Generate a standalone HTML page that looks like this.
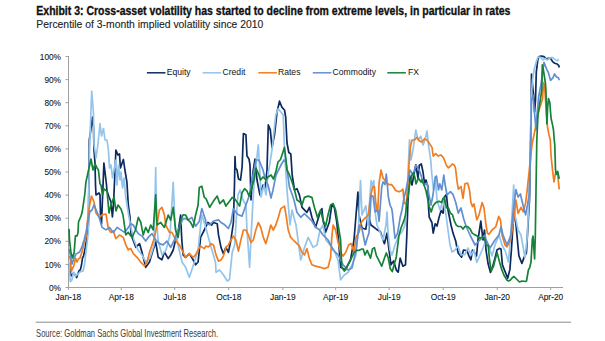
<!DOCTYPE html><html><head><meta charset="utf-8"><style>
html,body{margin:0;padding:0;background:#fff;width:605px;height:341px;overflow:hidden}
svg{display:block}
text{font-family:"Liberation Sans",sans-serif}
</style></head><body>
<svg width="605" height="341" viewBox="0 0 605 341">
<rect width="605" height="341" fill="#fff"/>
<text x="36.3" y="14.5" font-size="13" font-weight="bold" fill="#111" stroke="#111" stroke-width="0.35" textLength="474" lengthAdjust="spacingAndGlyphs">Exhibit 3: Cross-asset volatility has started to decline from extreme levels, in particular in rates</text>
<text x="36.3" y="28.4" font-size="11.2" fill="#222" stroke="#222" stroke-width="0.12" textLength="227" lengthAdjust="spacingAndGlyphs">Percentile of 3-month implied volatility since 2010</text>

<g stroke="#a0a0a0" stroke-width="1" fill="none">
<line x1="68.5" y1="56" x2="68.5" y2="287.5"/>
<line x1="65.5" y1="287.50" x2="69" y2="287.50"/>
<line x1="65.5" y1="264.40" x2="69" y2="264.40"/>
<line x1="65.5" y1="241.30" x2="69" y2="241.30"/>
<line x1="65.5" y1="218.20" x2="69" y2="218.20"/>
<line x1="65.5" y1="195.10" x2="69" y2="195.10"/>
<line x1="65.5" y1="172.00" x2="69" y2="172.00"/>
<line x1="65.5" y1="148.90" x2="69" y2="148.90"/>
<line x1="65.5" y1="125.80" x2="69" y2="125.80"/>
<line x1="65.5" y1="102.70" x2="69" y2="102.70"/>
<line x1="65.5" y1="79.60" x2="69" y2="79.60"/>
<line x1="65.5" y1="56.50" x2="69" y2="56.50"/>
<line x1="68" y1="287.5" x2="563" y2="287.5"/>
<line x1="68.40" y1="287.5" x2="68.40" y2="290.0"/>
<line x1="121.27" y1="287.5" x2="121.27" y2="290.0"/>
<line x1="174.73" y1="287.5" x2="174.73" y2="290.0"/>
<line x1="228.78" y1="287.5" x2="228.78" y2="290.0"/>
<line x1="282.82" y1="287.5" x2="282.82" y2="290.0"/>
<line x1="335.69" y1="287.5" x2="335.69" y2="290.0"/>
<line x1="389.15" y1="287.5" x2="389.15" y2="290.0"/>
<line x1="443.20" y1="287.5" x2="443.20" y2="290.0"/>
<line x1="497.24" y1="287.5" x2="497.24" y2="290.0"/>
<line x1="550.70" y1="287.5" x2="550.70" y2="290.0"/>
</g>
<g font-size="8.3" fill="#111" stroke="#111" stroke-width="0.08" text-anchor="end">
<text x="61" y="290.60">0%</text>
<text x="61" y="267.50">10%</text>
<text x="61" y="244.40">20%</text>
<text x="61" y="221.30">30%</text>
<text x="61" y="198.20">40%</text>
<text x="61" y="175.10">50%</text>
<text x="61" y="152.00">60%</text>
<text x="61" y="128.90">70%</text>
<text x="61" y="105.80">80%</text>
<text x="61" y="82.70">90%</text>
<text x="61" y="59.60">100%</text>
</g>
<g font-size="8.4" fill="#111" stroke="#111" stroke-width="0.08" text-anchor="middle">
<text x="68.40" y="300.1">Jan-18</text>
<text x="121.27" y="300.1">Apr-18</text>
<text x="174.73" y="300.1">Jul-18</text>
<text x="228.78" y="300.1">Oct-18</text>
<text x="282.82" y="300.1">Jan-19</text>
<text x="335.69" y="300.1">Apr-19</text>
<text x="389.15" y="300.1">Jul-19</text>
<text x="443.20" y="300.1">Oct-19</text>
<text x="497.24" y="300.1">Jan-20</text>
<text x="550.70" y="300.1">Apr-20</text>
</g>
<g font-size="8.6" fill="#111">
<line x1="146.9" y1="72.8" x2="165.5" y2="72.8" stroke="#0d2a5e" stroke-width="1.5"/>
<text x="166.7" y="74.9">Equity</text>
<line x1="202.6" y1="72.8" x2="221.2" y2="72.8" stroke="#93c4ec" stroke-width="1.5"/>
<text x="222.5" y="74.9">Credit</text>
<line x1="258.3" y1="72.8" x2="276.90000000000003" y2="72.8" stroke="#f27d20" stroke-width="1.5"/>
<text x="278" y="74.9">Rates</text>
<line x1="312.8" y1="72.8" x2="331.40000000000003" y2="72.8" stroke="#628fd0" stroke-width="1.5"/>
<text x="332.6" y="74.9">Commodity</text>
<line x1="387.3" y1="72.8" x2="405.90000000000003" y2="72.8" stroke="#168239" stroke-width="1.5"/>
<text x="408" y="74.9">FX</text>
</g>
<polyline fill="none" stroke="#0d2a5e" stroke-width="1.7" stroke-linejoin="round" points="69.0,264.0 70.9,274.9 71.9,275.9 73.5,273.0 74.5,274.0 76.7,277.5 77.5,275.0 78.8,271.2 80.4,269.6 81.5,265.0 82.5,258.0 83.6,256.0 85.2,248.0 86.5,240.0 88.4,225.0 89.3,140.0 90.5,132.0 92.5,117.0 93.5,128.0 94.0,150.0 95.0,163.0 95.5,185.0 96.0,195.0 99.0,193.0 100.0,195.0 100.5,215.0 101.5,224.0 103.9,163.0 106.4,184.0 107.0,191.0 109.0,197.0 111.0,202.0 112.4,217.0 113.5,205.0 115.9,150.0 117.9,155.0 119.5,154.0 120.4,168.0 123.4,159.5 124.9,170.0 126.9,182.0 128.3,205.0 130.0,217.0 131.0,234.0 133.0,240.0 135.8,247.3 139.5,243.6 142.0,252.3 145.7,267.3 149.5,262.0 152.0,253.6 155.7,242.0 158.2,257.3 161.9,259.8 164.4,252.0 168.2,258.6 170.7,255.0 173.2,250.0 175.6,239.9 178.1,232.0 180.6,215.0 181.8,240.0 183.1,254.8 185.6,257.3 189.3,253.6 193.1,259.8 195.6,264.8 198.1,262.0 200.6,237.4 204.3,230.0 208.0,222.4 211.7,225.0 213.5,222.5 217.2,223.7 218.5,234.9 221.0,247.4 223.4,253.6 225.9,247.4 228.4,252.4 230.9,240.0 233.4,222.5 234.5,184.0 235.0,156.5 235.5,168.0 237.0,170.0 238.5,179.0 240.5,180.0 241.5,172.0 242.1,167.0 243.4,133.6 245.9,134.8 247.0,156.0 249.0,159.0 250.0,165.0 251.0,200.0 253.0,172.0 255.0,159.0 257.0,180.0 260.0,195.0 263.0,185.0 265.0,188.0 267.0,170.0 268.3,124.9 270.3,129.9 272.0,147.3 274.5,134.8 277.0,112.4 279.5,101.2 282.0,107.4 284.5,110.0 285.7,117.4 287.0,143.0 288.8,152.5 290.8,154.0 292.2,175.0 294.5,189.9 297.0,188.7 299.4,194.9 302.0,207.3 304.4,209.8 306.9,212.3 309.4,207.3 311.9,217.3 315.6,227.3 319.4,214.8 321.9,208.6 323.0,220.0 325.6,232.3 329.3,222.3 331.8,204.9 334.3,207.3 336.8,222.3 338.5,240.0 340.6,267.3 345.5,269.8 350.5,259.9 354.0,240.0 357.9,192.0 359.0,215.0 362.0,228.0 365.8,229.2 368.0,215.0 371.0,225.0 376.4,229.2 380.4,231.8 384.4,243.7 387.0,233.2 389.0,250.0 391.0,264.8 393.6,260.9 396.3,270.1 398.2,272.1 400.2,258.2 402.9,266.2 405.5,264.8 406.8,235.8 408.0,200.0 409.5,175.0 412.0,185.0 415.8,164.8 418.0,178.0 419.3,165.3 421.3,164.0 423.0,172.0 424.6,183.8 426.0,180.0 427.9,186.5 428.5,206.6 429.2,217.2 431.9,222.5 433.2,233.1 435.2,223.8 437.0,226.0 439.1,217.2 441.1,210.6 443.1,213.2 444.4,197.0 446.4,194.4 448.0,210.0 451.0,225.0 453.0,233.1 455.7,241.0 457.0,248.0 458.3,253.2 461.6,257.2 463.5,250.0 466.9,250.6 468.9,255.9 470.9,259.8 472.5,250.0 474.9,253.2 476.5,256.0 478.0,240.0 480.8,221.2 483.0,240.0 484.5,230.0 486.0,250.0 488.1,263.8 490.5,272.4 492.7,266.5 495.0,258.0 497.0,250.0 499.5,248.4 501.0,249.0 502.4,264.9 505.4,272.4 507.7,278.3 509.9,269.4 511.4,249.9 513.0,225.0 514.0,210.0 516.0,225.0 518.9,255.9 521.9,263.4 524.1,257.4 526.4,252.9 528.0,225.0 529.5,200.0 530.5,150.0 531.5,74.0 533.5,95.0 534.6,112.0 535.5,100.0 536.3,72.0 537.8,59.9 539.0,56.6 541.5,56.2 544.0,56.6 546.4,59.1 548.1,58.3 550.6,58.3 552.6,61.6 554.7,63.2 557.2,64.0 558.8,65.7 559.3,67.4"/>
<polyline fill="none" stroke="#93c4ec" stroke-width="1.7" stroke-linejoin="round" points="69.0,262.0 69.6,272.2 70.3,281.8 71.9,280.0 73.5,272.0 75.5,276.0 78.0,274.0 80.0,272.0 83.0,271.0 84.5,265.0 86.0,252.0 88.4,232.0 88.7,200.0 89.5,150.0 91.0,110.0 91.7,91.2 93.4,112.0 94.0,144.0 96.0,158.0 98.0,144.0 100.0,123.5 101.5,136.0 103.5,128.5 105.0,140.0 107.0,140.0 108.4,150.0 109.5,168.0 111.0,165.0 112.5,178.0 114.0,170.0 115.9,160.0 117.0,185.0 118.5,165.0 120.0,180.0 121.0,172.0 122.5,188.0 124.0,178.0 125.5,195.0 127.0,205.0 129.5,219.8 131.5,230.0 134.0,240.0 138.0,250.0 142.0,255.0 146.0,262.0 150.0,258.0 154.0,245.0 155.7,167.5 156.5,215.0 158.0,240.0 162.0,255.0 166.0,250.0 170.0,235.0 173.2,182.4 175.0,225.0 178.0,245.0 182.0,262.0 185.6,267.3 189.3,277.2 191.8,270.0 194.3,262.3 198.1,249.8 201.8,215.0 205.0,225.0 210.5,244.9 215.5,262.3 216.0,272.3 219.5,270.0 223.4,274.8 227.2,281.0 229.5,279.5 232.2,252.4 234.7,244.7 236.5,215.0 238.0,195.0 240.0,190.0 243.0,200.0 245.9,205.0 247.0,230.0 249.6,267.3 250.9,239.9 253.0,200.0 254.0,185.0 256.0,165.0 258.3,144.8 260.0,175.0 261.0,197.0 264.0,185.0 266.0,195.0 268.0,175.0 272.0,150.0 275.8,114.9 278.3,108.7 280.8,112.0 283.2,114.9 284.5,150.0 285.7,170.0 287.0,190.0 290.0,225.0 292.0,210.0 296.0,225.0 300.7,259.9 304.5,247.4 308.2,237.4 313.1,247.4 317.0,245.0 320.0,230.0 323.0,225.0 326.0,240.0 330.0,245.0 334.0,250.0 338.0,260.0 340.6,279.8 344.3,275.0 348.0,272.5 352.0,265.0 356.0,255.0 358.6,225.0 360.5,180.6 362.0,215.0 365.8,205.7 368.0,225.0 371.1,180.6 372.5,186.0 373.8,180.6 375.5,215.0 377.0,225.0 380.0,232.0 383.0,240.0 386.0,225.0 387.0,212.0 388.0,232.0 390.0,250.0 392.0,255.0 395.0,245.0 399.0,235.0 402.0,232.0 405.0,225.0 407.0,195.0 409.5,139.9 411.0,160.0 413.0,150.0 415.8,130.0 418.0,140.0 420.8,136.2 423.0,145.0 425.0,140.0 427.0,131.2 428.5,145.0 430.7,159.8 431.9,175.0 433.5,190.0 435.5,180.0 437.0,200.0 440.0,210.0 443.0,200.0 446.0,215.0 448.0,230.0 450.0,245.0 452.0,252.0 455.0,250.0 458.0,246.0 461.0,255.0 464.9,254.6 468.0,248.0 471.0,255.0 474.0,250.0 476.8,262.5 480.0,255.0 483.0,248.0 486.0,240.0 490.0,250.0 492.0,255.9 495.0,245.0 497.0,240.0 499.0,235.0 502.0,245.0 505.4,251.4 508.4,261.9 510.0,245.0 512.0,215.0 513.7,185.0 515.0,215.0 518.0,230.0 521.0,235.0 524.9,257.4 527.0,240.0 529.0,200.0 530.5,150.0 531.0,100.0 532.5,80.0 534.0,70.0 536.1,62.4 538.0,57.0 540.7,57.4 543.1,59.9 545.0,58.3 547.0,60.0 549.8,58.3 552.2,57.4 554.7,59.1 557.2,60.7 558.8,59.5"/>
<polyline fill="none" stroke="#f27d20" stroke-width="1.7" stroke-linejoin="round" points="69.0,256.0 70.3,259.0 71.4,271.2 74.1,264.9 75.5,258.0 77.0,262.0 78.3,259.0 80.0,258.0 82.0,252.0 84.1,243.0 85.2,240.0 86.5,234.2 87.3,222.0 89.7,204.9 91.5,196.0 94.0,202.0 96.0,213.0 99.5,217.4 102.1,214.8 106.0,214.0 108.4,229.0 110.9,232.4 113.3,231.0 115.8,238.6 119.6,235.0 123.3,237.4 125.8,244.9 128.3,249.8 130.8,248.6 133.3,253.6 137.0,257.3 140.8,262.3 144.5,266.0 147.0,262.3 149.5,252.3 152.0,244.9 154.5,237.4 157.0,224.9 159.4,210.0 161.9,207.3 164.4,215.0 165.7,224.9 169.4,232.4 171.9,232.4 173.2,234.9 176.9,242.4 179.4,244.9 183.1,252.3 185.6,257.3 189.3,253.6 193.1,257.3 195.6,254.8 198.1,249.8 200.6,246.1 204.3,248.6 206.0,246.1 208.5,247.0 211.0,243.7 213.5,245.0 216.0,254.9 218.5,261.1 221.0,260.0 223.4,256.1 225.9,247.4 228.4,245.0 230.9,239.9 233.4,236.2 235.9,240.0 238.4,251.1 240.9,239.9 243.4,230.0 245.9,230.0 248.4,234.9 250.9,242.4 253.3,240.0 255.8,230.0 258.3,222.5 260.8,227.5 263.3,237.4 265.8,243.7 268.3,235.0 270.8,225.0 273.3,230.0 275.8,225.0 278.3,217.5 280.8,208.6 284.5,206.1 286.0,215.0 288.2,230.0 290.7,237.4 293.2,240.0 295.7,242.4 299.4,246.1 302.0,252.4 304.5,255.0 306.9,248.6 309.4,258.6 311.9,264.8 315.6,266.1 320.6,267.3 324.4,268.6 328.1,267.3 330.6,257.4 331.8,237.4 333.1,225.0 335.6,230.0 338.1,242.4 340.6,252.4 343.1,256.1 345.6,252.4 346.0,251.7 348.6,245.0 351.0,243.5 352.6,247.7 353.9,251.7 356.0,237.3 359.2,231.8 361.2,222.6 363.2,219.9 365.8,217.3 368.4,214.9 370.5,196.5 372.5,187.2 374.4,186.5 375.8,203.0 377.7,212.3 379.1,183.2 381.0,170.0 383.0,178.0 385.0,180.6 387.0,183.0 389.0,184.6 391.6,184.6 393.5,187.0 395.6,190.5 398.9,191.8 401.0,191.0 402.9,189.2 404.2,203.0 406.2,204.4 408.2,183.2 409.0,165.0 410.3,147.4 412.0,140.0 414.5,139.9 417.0,137.4 419.5,141.1 422.0,142.0 424.5,138.7 427.0,139.9 429.5,143.6 432.0,147.4 433.2,156.1 435.7,153.6 438.2,156.1 440.7,154.9 443.2,157.3 444.4,160.0 446.4,165.3 448.4,167.9 450.5,166.0 452.4,164.0 454.4,165.3 455.5,168.0 457.0,181.2 458.3,189.1 461.0,186.5 463.0,198.4 464.9,183.8 467.6,183.1 469.5,190.0 470.9,202.3 472.5,206.6 474.0,204.0 476.8,219.8 479.0,215.0 482.1,202.6 484.0,208.0 486.0,225.0 487.4,233.1 489.0,234.3 492.0,230.0 495.7,226.9 498.7,216.4 500.5,220.0 502.0,235.0 505.0,245.0 506.9,246.9 508.5,244.0 511.0,238.0 513.7,219.4 515.9,200.0 518.1,213.4 521.1,207.4 523.4,211.9 525.6,202.9 527.1,190.8 529.3,169.9 530.8,155.0 532.3,143.0 534.0,135.0 536.0,125.0 538.3,112.0 541.0,104.0 542.6,98.6 543.5,82.7 544.5,85.0 546.9,120.0 547.5,127.0 548.9,134.4 550.3,140.0 551.0,155.0 552.5,169.9 554.0,181.9 555.5,172.9 557.7,174.4 559.2,189.3"/>
<polyline fill="none" stroke="#628fd0" stroke-width="1.7" stroke-linejoin="round" points="69.0,249.0 70.5,256.0 72.0,264.0 74.0,258.0 76.0,254.0 79.7,252.0 82.2,246.1 84.1,240.0 86.0,232.4 89.7,212.0 92.0,210.0 94.0,205.0 97.0,212.0 99.0,217.0 102.1,227.4 105.9,229.9 109.6,227.4 113.3,232.4 117.1,227.4 120.8,229.9 124.6,232.4 128.3,227.4 130.8,223.7 133.3,225.0 135.8,229.9 138.3,233.6 142.0,236.1 145.7,241.1 148.2,237.4 152.0,233.6 155.7,239.9 159.4,243.6 163.1,244.9 166.9,241.1 170.7,247.3 174.4,239.9 178.1,229.9 183.1,218.7 185.6,218.7 188.1,220.0 191.8,217.4 195.6,226.2 199.3,221.2 201.8,208.6 205.5,219.8 206.0,223.5 209.7,224.8 213.5,221.0 218.5,219.8 221.0,222.5 224.7,224.8 228.4,228.5 230.9,222.5 233.4,208.6 235.9,212.3 238.4,214.8 242.1,216.1 245.9,204.9 249.6,195.0 252.1,179.9 254.6,167.5 256.0,160.0 259.0,160.0 261.0,165.0 263.0,170.0 265.0,178.0 268.0,185.0 271.0,198.0 273.0,190.0 276.0,175.0 278.0,171.0 281.0,165.0 284.0,160.0 286.0,162.0 289.5,187.4 292.0,194.0 294.0,200.0 296.9,212.3 300.7,217.3 304.4,213.7 308.2,217.3 311.9,221.0 315.6,227.3 319.4,229.8 323.0,235.0 328.1,240.0 333.1,250.0 338.1,254.9 343.1,264.8 348.0,270.0 352.0,268.0 356.0,250.0 359.2,225.2 361.8,228.0 365.2,245.0 367.2,238.0 369.0,233.0 371.1,195.1 373.1,196.5 375.1,212.0 377.7,209.7 379.1,221.3 381.7,187.2 383.0,181.9 385.0,184.6 386.3,174.0 387.6,188.0 388.3,196.5 390.0,205.0 391.6,208.4 392.3,212.0 395.0,238.5 397.6,233.2 400.2,217.3 402.0,210.0 404.0,198.0 406.0,190.0 408.0,180.0 410.0,170.0 413.0,175.0 416.0,165.0 420.0,172.0 424.0,185.0 427.0,183.0 429.0,195.0 431.0,205.0 433.0,195.0 435.2,177.2 436.5,176.0 438.5,190.0 439.8,183.8 441.8,190.0 443.8,175.2 445.0,184.0 447.0,195.0 450.4,191.7 453.0,194.4 455.7,202.3 458.3,213.2 461.0,208.0 463.6,218.5 466.0,226.0 470.0,235.0 475.0,245.0 480.0,240.0 485.0,235.0 486.0,240.0 490.0,248.0 495.0,240.0 499.0,235.0 501.0,226.9 503.0,235.0 507.0,245.0 510.7,235.8 513.7,207.4 515.9,189.5 518.1,197.0 520.4,194.0 523.0,205.0 525.6,214.9 527.5,205.0 529.3,194.0 530.0,170.0 530.8,140.0 531.5,100.0 533.0,95.0 536.0,130.0 537.0,115.0 538.6,97.0 541.0,84.3 544.0,62.4 545.6,66.5 547.3,70.7 548.2,72.0 550.5,80.3 552.9,77.9 554.5,74.0 556.5,77.0 558.5,77.9 559.3,80.3"/>
<polyline fill="none" stroke="#168239" stroke-width="1.7" stroke-linejoin="round" points="69.0,228.9 69.5,240.0 70.9,252.2 72.5,258.0 74.1,252.7 75.1,240.0 75.4,235.8 77.2,235.8 78.0,232.6 78.5,222.0 81.0,216.0 82.2,212.0 84.7,195.0 85.9,182.4 89.0,168.0 91.0,159.0 93.0,170.0 95.0,164.0 97.0,168.0 98.4,170.0 100.0,184.0 101.0,185.0 102.5,195.0 104.0,189.0 107.0,191.0 109.0,213.0 111.0,205.0 114.0,197.0 116.0,211.0 118.0,205.0 121.0,209.0 123.0,215.0 125.8,234.9 128.3,232.4 132.0,237.4 135.5,230.0 138.3,217.4 140.8,222.4 143.2,234.9 145.7,227.4 148.2,232.4 150.7,225.0 153.2,229.9 155.7,194.9 157.0,225.0 160.7,222.4 164.4,227.4 168.2,215.0 170.7,220.0 173.2,207.3 175.6,229.9 178.1,237.4 180.6,220.0 183.1,214.8 185.6,215.0 188.1,220.0 190.6,222.4 193.1,227.4 195.6,215.0 198.1,205.0 199.3,187.4 201.8,186.2 204.3,197.4 206.0,198.6 209.7,207.3 213.5,201.1 217.2,196.1 219.7,203.6 223.4,199.9 225.9,206.1 229.7,201.0 232.2,197.4 234.7,198.6 237.2,202.4 239.6,206.1 242.1,192.4 244.6,188.7 247.1,191.2 249.0,196.0 251.0,190.0 254.0,180.0 256.0,168.0 259.0,175.0 260.5,180.0 263.0,177.0 266.0,180.0 268.0,177.0 271.0,175.0 273.5,179.0 276.0,171.0 278.0,162.0 280.5,159.5 283.0,152.0 284.5,147.3 286.0,160.0 287.0,170.0 289.0,174.0 291.0,179.0 293.0,185.0 295.0,192.0 297.0,200.0 300.0,202.0 302.0,205.0 304.4,197.4 308.2,196.1 311.9,197.4 314.4,207.3 317.5,217.4 320.6,209.8 323.0,220.0 325.6,226.0 328.0,215.0 330.6,204.9 333.1,203.6 335.6,210.0 338.1,224.8 340.6,240.0 341.8,267.3 344.3,271.1 348.6,263.5 351.5,258.0 353.9,252.9 356.6,250.4 359.2,250.3 361.9,249.0 363.2,249.0 365.0,255.0 367.2,250.4 370.5,258.2 372.5,249.0 374.4,247.6 376.4,255.6 379.1,260.9 381.7,266.2 384.4,258.2 386.3,253.0 388.3,258.0 390.3,268.8 392.3,271.5 394.3,264.0 396.3,256.9 398.9,235.8 401.0,228.0 404.2,219.9 405.5,215.0 407.1,199.9 408.2,196.5 409.5,185.0 412.0,175.0 413.5,172.6 415.0,178.0 416.0,183.8 418.5,178.0 421.0,182.0 422.0,180.0 424.0,185.0 425.9,190.4 427.9,200.0 429.2,206.6 431.2,211.9 433.0,206.0 435.8,202.6 439.1,201.3 441.5,202.6 443.1,198.4 444.4,197.4 446.4,207.9 448.4,207.9 450.4,213.2 452.4,214.6 454.4,221.2 456.3,225.1 458.3,226.5 461.0,226.5 463.0,229.1 464.9,226.5 467.6,226.5 470.2,229.1 472.2,233.1 474.2,234.4 476.8,235.7 479.5,238.4 482.1,237.0 484.8,238.4 486.1,245.3 488.2,245.5 489.5,260.0 491.2,270.9 493.5,266.4 495.7,257.4 497.2,252.9 499.5,261.9 501.7,269.4 503.9,275.0 506.9,280.0 508.5,281.0 510.5,280.0 512.0,278.0 514.0,276.5 515.5,278.0 517.5,280.0 519.5,282.0 522.0,281.0 525.5,281.5 526.5,281.0 528.4,270.0 529.8,267.3 531.0,262.0 532.3,239.5 533.0,236.0 534.6,258.9 535.3,236.0 536.0,191.0 536.8,140.0 538.0,115.0 541.8,90.0 542.3,64.9 543.4,70.0 545.4,83.0 545.9,90.0 546.9,124.0 547.6,108.0 548.5,98.6 549.9,103.0 550.5,112.0 551.2,119.0 552.5,124.6 553.5,130.0 554.2,139.7 554.8,145.0 555.5,169.9 556.3,174.4 557.7,171.4 559.2,178.9"/>
<line x1="35.7" y1="322.2" x2="571" y2="322.2" stroke="#8c8c8c" stroke-width="1"/>
<text x="36.1" y="336.5" font-size="10.3" fill="#3a3a3a" textLength="182" lengthAdjust="spacingAndGlyphs">Source: Goldman Sachs Global Investment Research.</text>
</svg></body></html>
